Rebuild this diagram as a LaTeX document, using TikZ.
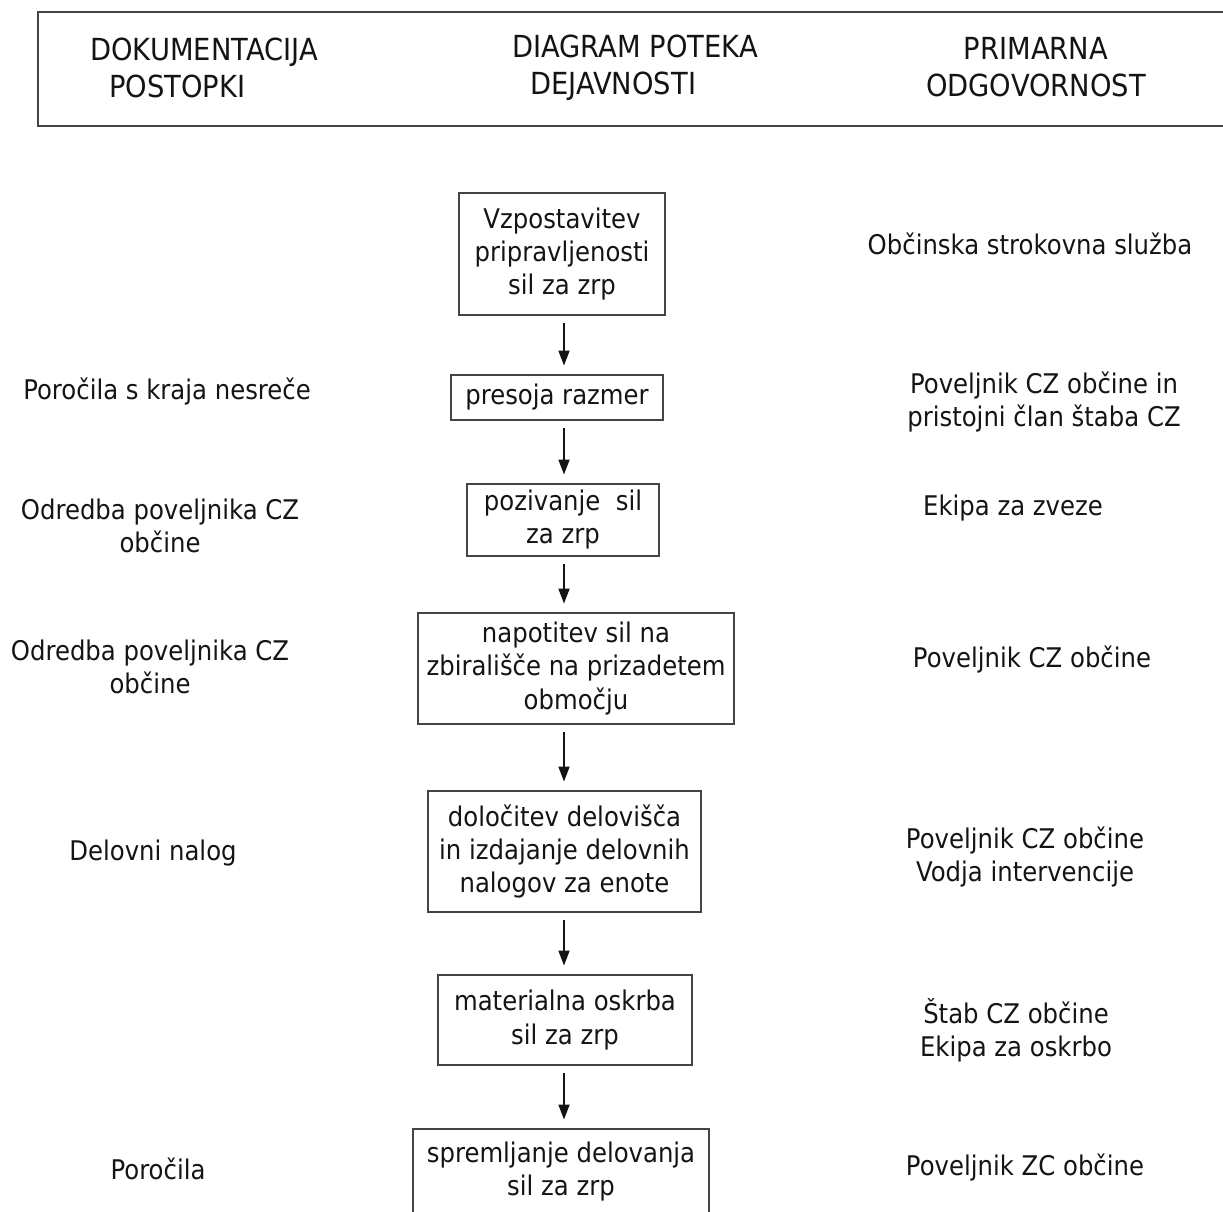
\documentclass[tikz,border=0pt]{standalone}
\usepackage{fontspec}
\setmainfont{DejaVu Sans}[FakeStretch=0.9]
\usetikzlibrary{arrows.meta}

\definecolor{ink}{HTML}{141414}
\definecolor{framegray}{HTML}{444444}

\tikzset{
  box/.style={draw=framegray,line width=1.1pt,align=center,inner sep=0pt,text=ink},
  lbl/.style={align=center,inner sep=0pt,text=ink},
  head/.style={inner sep=0pt,text=ink,font=\fontsize{17.3pt}{21pt}\selectfont},
  arr/.style={-{Triangle[length=0.3cm,width=0.22cm]},line width=1pt,draw=ink,
    shorten <=0.15cm,shorten >=0.17cm},
}

\begin{document}
\begin{tikzpicture}[x=0.02cm,y=-0.02cm,font=\fontsize{15.4pt}{18.8pt}\selectfont]
\useasboundingbox (0,0) rectangle (1223,1211);

%header
\draw[framegray,line width=1.1pt] (38,12) rectangle (1223.5,126);
\node[head,anchor=west,align=left] (hdoc) at (90,67.5) {DOKUMENTACIJA\\\hspace*{0.38cm}POSTOPKI};
\node[head,anchor=west,align=left] (hdia) at (512,67.5) {DIAGRAM POTEKA\\\hspace*{0.36cm}DEJAVNOSTI};
\node[head,align=center] (hodg) at (1036,67.5) {PRIMARNA\\ODGOVORNOST};

%flow
\coordinate (axis) at (564,0);
\node[box,minimum width=4.12cm,minimum height=2.44cm] (vzpost) at (562,254) {Vzpostavitev\\pripravljenosti\\sil za zrp};
\node[box,minimum width=4.24cm,minimum height=0.9cm] (presoja) at (557,397.5) {presoja razmer};
\node[box,minimum width=3.84cm,minimum height=1.44cm] (poziv) at (563,520) {pozivanje\ \ sil\\za zrp};
\node[box,minimum width=6.32cm,minimum height=2.22cm] (napot) at (576,668.5) {napotitev sil na\\zbirališče na prizadetem\\območju};
\node[box,minimum width=5.46cm,minimum height=2.42cm] (dolo) at (564.5,851.5) {določitev delovišča\\in izdajanje delovnih\\nalogov za enote};
\node[box,minimum width=5.08cm,minimum height=1.8cm] (oskrba) at (565,1020) {materialna oskrba\\sil za zrp};
\node[box,minimum width=5.92cm,minimum height=1.7cm] (sprem) at (561,1171.5) {spremljanje delovanja\\sil za zrp};

\draw[arr] (vzpost.south -| axis) -- (presoja.north -| axis);
\draw[arr] (presoja.south -| axis) -- (poziv.north -| axis);
\draw[arr] (poziv.south -| axis) -- (napot.north -| axis);
\draw[arr] (napot.south -| axis) -- (dolo.north -| axis);
\draw[arr] (dolo.south -| axis) -- (oskrba.north -| axis);
\draw[arr] (oskrba.south -| axis) -- (sprem.north -| axis);

%documents
\node[lbl] (dporoc) at (167,391) {Poročila s kraja nesreče};
\node[lbl] (dodr1) at (160,526) {Odredba poveljnika CZ\\občine};
\node[lbl] (dodr2) at (150,667) {Odredba poveljnika CZ\\občine};
\node[lbl] (dnalog) at (153,853) {Delovni nalog};
\node[lbl] (dkonc) at (158,1169) {Poročila};

%responsibility
\node[lbl] (rsluz) at (1030,244) {Občinska strokovna služba};
\node[lbl] (rpov1) at (1044,402) {Poveljnik CZ občine in\\pristojni član štaba CZ};
\node[lbl] (rekipa) at (1013,508) {Ekipa za zveze};
\node[lbl] (rpov2) at (1032,659) {Poveljnik CZ občine};
\node[lbl] (rpov3) at (1025,857) {Poveljnik CZ občine\\Vodja intervencije};
\node[lbl] (rstab) at (1016,1030) {Štab CZ občine\\Ekipa za oskrbo};
\node[lbl] (rpov4) at (1025,1167) {Poveljnik ZC občine};

\end{tikzpicture}
\end{document}
